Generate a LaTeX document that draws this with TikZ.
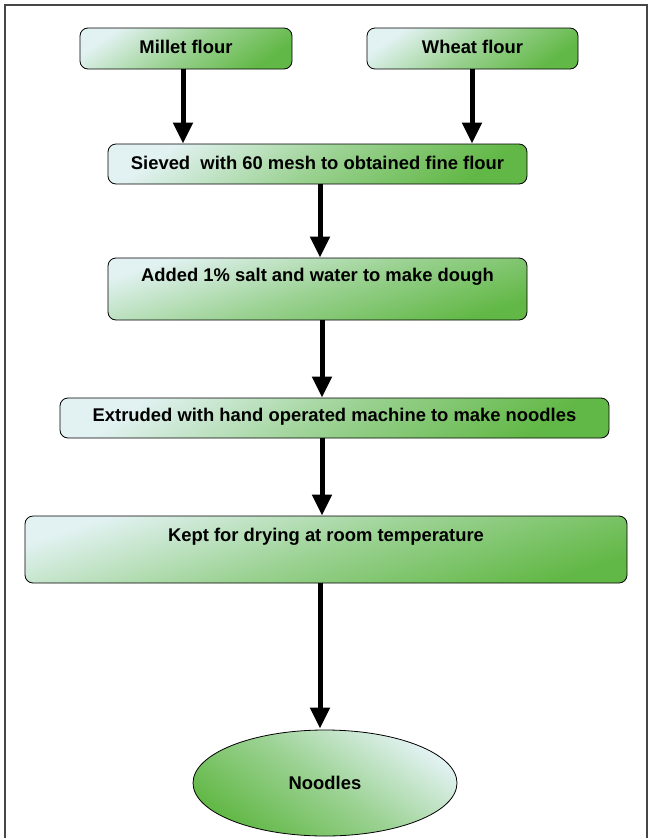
\documentclass[tikz,border=0pt]{standalone}
\usepackage{fontspec}
\setmainfont{Liberation Sans}
\usetikzlibrary{arrows.meta,shapes.geometric,calc}
\definecolor{pale}{RGB}{226,242,242}
\definecolor{leaf}{RGB}{98,184,70}
\definecolor{framec}{RGB}{70,70,70}
\tikzset{
  stepbox/.style={draw=black, line width=0.8pt, rounded corners=8pt, top color=pale, bottom color=leaf, middle color=pale!45!leaf, shading angle=35, inner sep=0pt},
  tallbox/.style={stepbox, shading angle=18},
  endbox/.style={ellipse, draw=black, line width=0.8pt, top color=pale, bottom color=leaf, middle color=pale!45!leaf, shading angle=-35, inner sep=0pt},
  txt/.style={font=\bfseries\fontsize{18.4}{20}\selectfont, inner sep=0pt, text=black},
  arr/.style={line width=5pt, -{Triangle[length=21pt,width=19pt]}}
}
\begin{document}
\begin{tikzpicture}[x=1pt,y=-1pt]
\useasboundingbox (0,0) rectangle (652,838);
\draw[framec, line width=1.6pt] (5,838) -- (5,5) -- (647,5) -- (647,838);

\node[stepbox, minimum width=212pt, minimum height=41pt] (m) at (186,48.5) {};
\node[stepbox, minimum width=211pt, minimum height=41pt] (w) at (472.5,48.5) {};
\node[stepbox, minimum width=419pt, minimum height=40pt] (s) at (317.5,164) {};
\node[tallbox, minimum width=419pt, minimum height=62pt] (a) at (317.5,289) {};
\node[stepbox, minimum width=549pt, minimum height=40pt] (e) at (334.5,418) {};
\node[tallbox, minimum width=602pt, minimum height=67pt] (k) at (326,549.5) {};
\node[endbox, minimum width=264pt, minimum height=106pt] (n) at (325,783) {};

\node[txt] (mt) at ([yshift=-19pt]m.north) {Millet flour};
\node[txt] (wt) at ([yshift=-19pt]w.north) {Wheat flour};
\node[txt] (st) at ([yshift=-19pt]s.north) {Sieved\ \ with 60 mesh to obtained fine flour};
\node[txt] (at) at ([yshift=-19pt]a.north) {Added 1\% salt and water to make dough};
\node[txt] (et) at ([yshift=-19pt]e.north) {Extruded with hand operated machine to make noodles};
\node[txt] (kt) at ([yshift=-21pt]k.north) {Kept for drying at room temperature};
\node[txt] (nt) at (n.center) {Noodles};

\coordinate (x1) at (183,0);
\coordinate (x2) at (472,0);
\coordinate (x3) at (320,0);
\coordinate (x4) at (322,0);
\draw[arr] (m.south -| x1) -- (s.north -| x1);
\draw[arr] (w.south -| x2) -- (s.north -| x2);
\draw[arr] (s.south -| x3) -- (a.north -| x3);
\draw[arr] (a.south -| x4) -- (e.north -| x4);
\draw[arr] (e.south -| x4) -- (k.north -| x4);
\draw[arr] (k.south -| x3) -- ([yshift=1pt]n.north -| x3);
\end{tikzpicture}
\end{document}
